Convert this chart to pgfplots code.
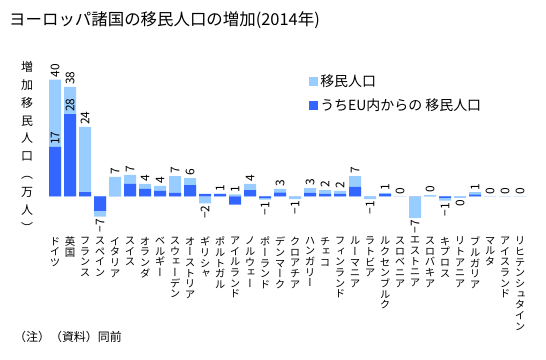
\documentclass[border=0pt]{standalone}
\usepackage{fontspec}
\setmainfont{Noto Sans CJK JP}
\newfontfamily\vjp[RawFeature={+vert}]{Noto Sans CJK JP}
\usepackage{pgfplots}
\usepackage{pgfplotstable}
\pgfplotsset{compat=1.18}
\definecolor{light}{RGB}{153,204,255}
\definecolor{dark}{RGB}{51,102,255}

\pgfplotstableread{
x tot eu
0 40 17
1 37.5 28.2
2 23.8 1.5
3 -6.9 -4.9
4 6.7 0
5 7.4 4.3
6 4.3 2.6
7 3.6 1.9
8 7.0 1.2
9 6.3 3.9
10 -2.4 0.9
11 0.9 0.9
12 0.7 -2.8
13 4.3 2.2
14 -1.1 -0.6
15 2.6 1.3
16 -0.9 0
17 2.9 1.2
18 2.2 0.9
19 1.9 0.9
20 7.0 3.3
21 -0.9 0
22 1.2 0.9
23 0 0
24 -7.3 0
25 0.45 0
26 -1.4 -0.5
27 -0.45 0
28 1.45 0.6
29 0 0
30 0 0
31 0 0
}\data

\pgfplotstableread{
x y lab
0 40 40
1 37.5 38
2 23.8 24
4 6.7 7
5 7.4 7
6 4.3 4
7 3.6 4
8 7.0 7
9 6.3 6
11 0.9 1
12 0.7 1
13 4.3 4
15 2.6 3
17 2.9 3
18 2.2 2
19 1.9 2
20 7.0 7
22 1.2 1
23 0 0
25 0.45 0
28 1.45 1
29 0 0
30 0 0
31 0 0
}\poslab

\pgfplotstableread{
x y lab
3 -6.9 −7
10 -2.4 −2
14 -1.1 −1
16 -0.9 −1
21 -0.9 −1
24 -7.3 −7
26 -1.4 −1
27 -0.45 0
}\neglab

\pgfplotstableread{
x y lab
0 17 17
1 28.2 28
}\eulab

\begin{document}
\begin{tikzpicture}
\path[use as bounding box] (0,0) rectangle (546bp,360bp);
\node[anchor=west, inner sep=0pt, font=\fontsize{16.5}{18}\selectfont] at (9bp,340bp) {ヨーロッパ諸国の移民人口の増加(2014年)};
\node[anchor=north, inner sep=0pt, align=center, font=\vjp\fontsize{12}{18}\selectfont] at (27bp,299bp) {増\\加\\移\\民\\人\\口\\（\\万\\人\\）};
\node[anchor=west, inner sep=0pt, font=\fontsize{12}{14}\selectfont] at (14bp,23.5bp) {（注）（資料）同前};
\begin{axis}[
  at={(47.5bp,124.1bp)}, anchor=south west,
  scale only axis, width=480bp, height=170.82bp,
  xmin=-0.5, xmax=31.5, ymin=-13.5, ymax=45,
  clip=false,
  axis line style={draw=none}, tick style={draw=none},
  ytick=\empty,
  xtick={0,...,31},
  xticklabels={
    {ド\\イ\\ツ},{英\\国},{フ\\ラ\\ン\\ス},{ス\\ペ\\イ\\ン},{イ\\タ\\リ\\ア},{ス\\イ\\ス},{オ\\ラ\\ン\\ダ},{ベ\\ル\\ギ\\ー},
    {ス\\ウ\\ェ\\ー\\デ\\ン},{オ\\ー\\ス\\ト\\リ\\ア},{ギ\\リ\\シ\\ャ},{ポ\\ル\\ト\\ガ\\ル},{ア\\イ\\ル\\ラ\\ン\\ド},{ノ\\ル\\ウ\\ェ\\ー},{ポ\\ー\\ラ\\ン\\ド},{デ\\ン\\マ\\ー\\ク},
    {ク\\ロ\\ア\\チ\\ア},{ハ\\ン\\ガ\\リ\\ー},{チ\\ェ\\コ},{フ\\ィ\\ン\\ラ\\ン\\ド},{ル\\ー\\マ\\ニ\\ア},{ラ\\ト\\ビ\\ア},{ル\\ク\\セ\\ン\\ブ\\ル\\ク},{ス\\ロ\\ベ\\ニ\\ア},
    {エ\\ス\\ト\\ニ\\ア},{ス\\ロ\\バ\\キ\\ア},{キ\\プ\\ロ\\ス},{リ\\ト\\ア\\ニ\\ア},{ブ\\ル\\ガ\\リ\\ア},{マ\\ル\\タ},{ア\\イ\\ス\\ラ\\ン\\ド},{リ\\ヒ\\テ\\ン\\シ\\ュ\\タ\\イ\\ン}},
  xticklabel style={align=center, anchor=north, inner sep=1bp, font=\vjp\fontsize{10.5}{10.7}\selectfont},
  legend style={draw=none, fill=none, at={(axis description cs:0.545,0.958)}, anchor=north west,
    font=\fontsize{14}{15}\selectfont, row sep=7bp, inner sep=0pt},
  legend cell align=left,
]
\addplot[ybar, bar width=12bp, bar shift=0pt, fill=light, draw=none,
  legend image code/.code={\fill[light] (0bp,-4.5bp) rectangle (9bp,4.5bp);}]
  table[x=x,y=tot]{\data};
\addlegendentry{移民人口}
\addplot[ybar, bar width=12bp, bar shift=0pt, fill=dark, draw=none,
  legend image code/.code={\fill[dark] (0bp,-4.5bp) rectangle (9bp,4.5bp);}]
  table[x=x,y=eu]{\data};
\addlegendentry{うちEU内からの 移民人口}
\addplot[ybar, bar width=12bp, bar shift=0pt, draw=none, fill=none, forget plot,
  nodes near coords, point meta=explicit symbolic,
  every node near coord/.append style={rotate=90, anchor=west, inner sep=2bp, font=\fontsize{12}{12}\selectfont}]
  table[x=x,y=y,meta=lab]{\poslab};
\addplot[ybar, bar width=12bp, bar shift=0pt, draw=none, fill=none, forget plot,
  nodes near coords, point meta=explicit symbolic,
  every node near coord/.append style={rotate=90, anchor=east, inner sep=2bp, font=\fontsize{12}{12}\selectfont}]
  table[x=x,y=y,meta=lab]{\neglab};
\addplot[ybar, bar width=12bp, bar shift=0pt, draw=none, fill=none, forget plot,
  nodes near coords, point meta=explicit symbolic,
  every node near coord/.append style={rotate=90, anchor=west, inner sep=2bp, font=\fontsize{12}{12}\selectfont}]
  table[x=x,y=y,meta=lab]{\eulab};
\end{axis}
\end{tikzpicture}
\end{document}
